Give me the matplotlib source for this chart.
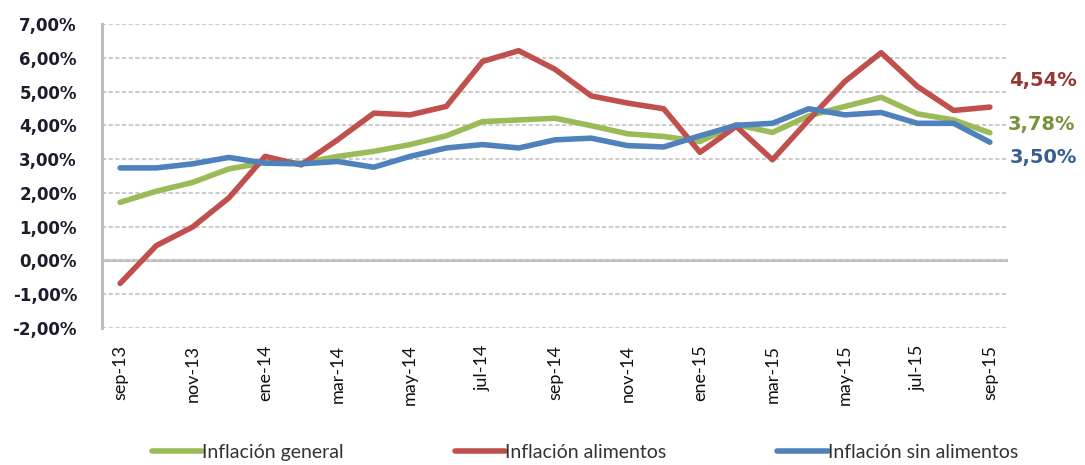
import numpy as np
import matplotlib
matplotlib.use("Agg")
import matplotlib.pyplot as plt
import matplotlib.ticker as mtick

meses = ["sep-13", "oct-13", "nov-13", "dic-13", "ene-14", "feb-14", "mar-14", "abr-14",
         "may-14", "jun-14", "jul-14", "ago-14", "sep-14", "oct-14", "nov-14", "dic-14",
         "ene-15", "feb-15", "mar-15", "abr-15", "may-15", "jun-15", "jul-15", "ago-15", "sep-15"]

inflacion_general = [1.72, 2.05, 2.31, 2.71, 2.90, 2.88, 3.08, 3.23, 3.43, 3.69, 4.11, 4.16, 4.21,
                     3.99, 3.75, 3.67, 3.52, 4.02, 3.79, 4.28, 4.56, 4.83, 4.34, 4.16, 3.78]
inflacion_alimentos = [-0.68, 0.44, 0.99, 1.85, 3.08, 2.83, 3.57, 4.36, 4.31, 4.56, 5.89, 6.21, 5.66,
                       4.87, 4.66, 4.49, 3.20, 3.97, 2.98, 4.16, 5.30, 6.15, 5.15, 4.44, 4.54]
inflacion_sin_alimentos = [2.74, 2.74, 2.86, 3.05, 2.88, 2.86, 2.93, 2.76, 3.08, 3.33, 3.43, 3.33, 3.57,
                           3.62, 3.40, 3.36, 3.69, 4.00, 4.06, 4.49, 4.31, 4.38, 4.06, 4.06, 3.50]

series = [
    ("Inflación general", inflacion_general, "#9BBB59", "#77933C"),
    ("Inflación alimentos", inflacion_alimentos, "#C0504D", "#953735"),
    ("Inflación sin alimentos", inflacion_sin_alimentos, "#4F81BD", "#365F91"),
]
# desplazamiento (pt) de la etiqueta final de cada serie
offsets = {"Inflación general": (13, 6), "Inflación alimentos": (14, 19), "Inflación sin alimentos": (14, -11)}

fig = plt.figure(figsize=(10.85, 4.65), dpi=100)
ax = fig.add_axes([102 / 1085, 1 - 328 / 465, (1008 - 102) / 1085, (328 - 24) / 465])

x = np.arange(len(meses))
for nombre, valores, color, color_txt in series:
    ax.plot(x, valores, color=color, lw=4, label=nombre, solid_capstyle="round", zorder=3)
    dx, dy = offsets[nombre]
    ax.annotate(f"{valores[-1]:.2f}%".replace(".", ","), xy=(x[-1], valores[-1]),
                xytext=(dx, dy), textcoords="offset points", ha="left", va="center",
                fontsize=14, fontweight="bold", color=color_txt)

ax.set_xlim(-0.5, len(meses) - 0.5)
ax.set_ylim(-2, 7)
ax.set_yticks(np.arange(-2, 8, 1))
ax.yaxis.set_major_formatter(mtick.FuncFormatter(lambda v, p: f"{v:.2f}%".replace(".", ",")))
ax.set_xticks(x[::2])
ax.set_xticklabels(meses[::2], rotation=90, family=["Lato", "DejaVu Sans"], fontsize=13, color="#111111")

for yl in ax.get_yticklabels():
    yl.set_fontweight("bold")
    yl.set_fontsize(12)
    yl.set_color("#1c1c2c")

ax.tick_params(axis="y", length=0, pad=18)
ax.tick_params(axis="x", length=0, pad=12)

ax.grid(axis="y", color="#CCCCCC", lw=1.5, linestyle=(0, (2, 1.2)), zorder=0)
ax.axhline(0, color="#BDBDBD", lw=2.2, zorder=1)
for s in ["top", "right", "bottom"]:
    ax.spines[s].set_visible(False)
ax.spines["left"].set_color("#BDBDBD")
ax.spines["left"].set_linewidth(2.2)

fig.legend(loc="center", bbox_to_anchor=(0.539, 0.027), ncol=3, frameon=False,
           handlelength=2.6, handletextpad=0.0, columnspacing=5.7, borderpad=0,
           prop={"family": ["Lato", "DejaVu Sans"], "size": 14}, labelcolor="#333333")

fig.savefig("out.png", dpi=100)
